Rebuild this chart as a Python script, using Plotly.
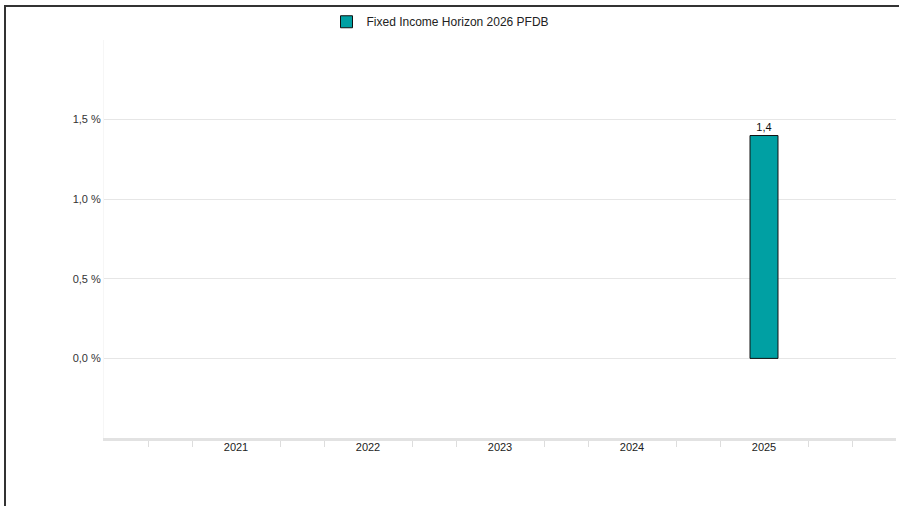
import plotly.graph_objects as go

years = ["2021", "2022", "2023", "2024", "2025"]
values = [None, None, None, None, 1.4]
series_name = "Fixed Income Horizon 2026 PFDB"
ytick_vals = [0, 0.5, 1.0, 1.5, 2.0]
ytick_text = ["0,0 %", "0,5 %", "1,0 %", "1,5 %", ""]

W, H = 899, 506
L, R, T, B = 104, 3, 40, 68

xs = list(range(len(years)))
fig = go.Figure()
fig.add_trace(go.Bar(
    x=xs, y=values, name=series_name, width=0.212,
    marker=dict(color="#00A0A3", line=dict(color="#111111", width=1)),
    text=[None if v is None else f"{v:.1f}".replace(".", ",") for v in values],
    textposition="outside", cliponaxis=False,
    textfont=dict(family="Liberation Sans, Arial", size=11, color="#111111"),
    showlegend=True,
))

minor_vals = [i / 3 for i in range(-3, 16) if i % 3 != 0]

fig.update_layout(
    width=W, height=H,
    margin=dict(l=L, r=R, t=T, b=B, pad=0),
    paper_bgcolor="white", plot_bgcolor="white",
    separators=",.",
    font=dict(family="Liberation Sans, Arial", size=11, color="#333333"),
    showlegend=True,
    legend=dict(orientation="h", xref="container", yref="container",
                x=0.490, xanchor="center", y=0.957, yanchor="middle",
                bgcolor="rgba(0,0,0,0)",
                font=dict(size=12, color="#222222"), itemwidth=30),
    xaxis=dict(range=[-1, 5], tickvals=xs, ticktext=years, showgrid=False,
               zeroline=False, showline=True, linecolor="#e2e2e2", linewidth=3,
               ticks="", ticklabelstandoff=-3,
               tickfont=dict(size=11, color="#222222"),
               minor=dict(tickvals=minor_vals, ticks="outside", ticklen=6,
                          tickcolor="#dddddd", tickwidth=1, showgrid=False)),
    yaxis=dict(range=[-0.5, 2.0], tickvals=ytick_vals, ticktext=ytick_text,
               showgrid=True, gridcolor="#e6e6e6", gridwidth=1, zeroline=False,
               showline=True, linecolor="#f6f6f6", linewidth=1, ticks="",
               ticklen=0, tickfont=dict(size=11, color="#333333")),
)

# page frame (top and left border of the original screenshot panel)
frame_js = (
    "document.body.style.margin='0px';"
    "document.body.style.overflow='hidden';"
    "var f=document.createElement('div');"
    "f.style.cssText='position:fixed;left:4px;top:5px;width:900px;height:510px;"
    "border-top:2px solid #333;border-left:2px solid #333;"
    "pointer-events:none;z-index:10000;box-sizing:border-box;';"
    "document.body.appendChild(f);"
)

fig.write_html("out.html", config={"displayModeBar": False}, post_script=frame_js)
